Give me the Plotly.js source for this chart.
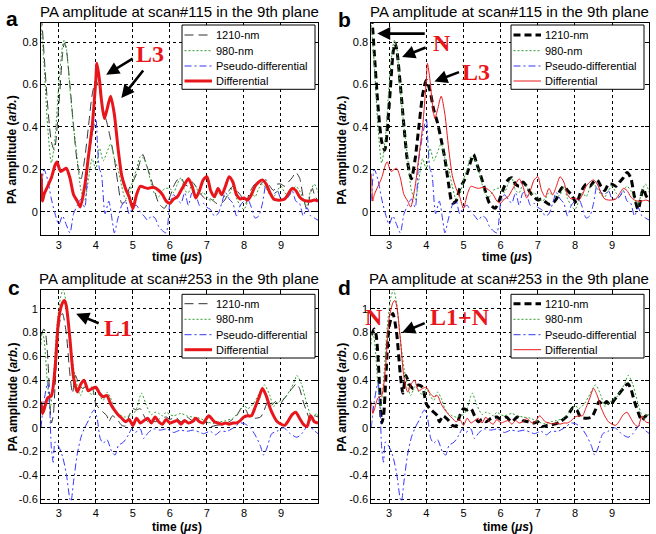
<!DOCTYPE html>
<html><head><meta charset="utf-8">
<script src="https://cdn.plot.ly/plotly-3.0.1.min.js"></script>
<style>html,body{margin:0;padding:0;background:#fff}#chart{width:656px;height:534px}</style>
</head><body><div id="chart"></div>
<script>
// ---------- scan #115 ----------
const t115_1210 = [2.52,2.55,2.6,2.7,2.8,2.88,3.0,3.1,3.15,3.2,3.3,3.4,3.5,3.6,3.7,3.8,3.9,4.0,4.1,4.2,4.3,4.4,4.5,4.6,4.7,4.8,4.9,5.0,5.1,5.2,5.27,5.35,5.5,5.6,5.7,5.85,6.0,6.1,6.2,6.3,6.4,6.5,6.6,6.7,6.8,6.9,7.0,7.1,7.2,7.3,7.4,7.5,7.6,7.7,7.8,7.9,8.0,8.05,8.15,8.3,8.4,8.5,8.6,8.7,8.8,8.9,9.0,9.1,9.2,9.3,9.4,9.5,9.6,9.7,9.8,9.85,9.9,10.0];
const v115_1210 = [0.92,0.88,0.75,0.5,0.33,0.29,0.5,0.74,0.795,0.77,0.6,0.4,0.23,0.155,0.25,0.4,0.55,0.62,0.57,0.48,0.42,0.34,0.25,0.13,0.04,0.05,0.11,0.14,0.18,0.24,0.27,0.23,0.15,0.09,0.04,0.016,0.07,0.12,0.15,0.16,0.13,0.12,0.14,0.12,0.09,0.07,0.055,0.06,0.047,0.035,0.04,0.06,0.1,0.12,0.1,0.08,0.05,0.04,0.09,0.13,0.12,0.14,0.15,0.12,0.1,0.13,0.13,0.12,0.14,0.16,0.185,0.16,0.07,0.01,0.09,0.11,0.08,0.05];

const t115_980 = [2.52,2.6,2.7,2.8,2.9,3.0,3.1,3.15,3.2,3.3,3.4,3.5,3.6,3.7,3.8,3.9,4.0,4.1,4.2,4.3,4.4,4.5,4.6,4.7,4.8,4.9,5.0,5.1,5.2,5.3,5.4,5.5,5.6,5.7,5.8,5.9,6.0,6.1,6.2,6.3,6.4,6.5,6.6,6.7,6.8,6.9,7.0,7.1,7.2,7.3,7.4,7.5,7.6,7.7,7.8,7.9,8.0,8.1,8.2,8.3,8.4,8.5,8.6,8.7,8.8,8.9,9.0,9.1,9.2,9.3,9.4,9.5,9.6,9.7,9.8,9.9,10.0];
const v115_980 = [0.88,0.7,0.4,0.23,0.35,0.6,0.78,0.81,0.78,0.58,0.4,0.25,0.1,0.055,0.15,0.25,0.2,0.3,0.24,0.28,0.32,0.25,0.2,0.12,0.06,0.08,0.15,0.2,0.26,0.25,0.2,0.13,0.08,0.07,0.1,0.11,0.11,0.09,0.13,0.16,0.1,0.09,0.13,0.12,0.08,0.09,0.07,0.05,0.06,0.09,0.08,0.07,0.08,0.12,0.06,0.03,0.01,0.05,0.09,0.07,0.11,0.13,0.11,0.08,0.07,0.1,0.12,0.09,0.07,0.1,0.12,0.1,0.06,0.03,0.1,0.13,0.09];

const t115_pseudo = [2.52,2.6,2.7,2.8,2.9,3.0,3.1,3.2,3.3,3.4,3.5,3.6,3.7,3.8,3.9,4.0,4.05,4.1,4.15,4.25,4.35,4.45,4.5,4.6,4.7,4.8,4.9,5.0,5.1,5.2,5.3,5.4,5.5,5.6,5.7,5.8,5.9,6.0,6.1,6.2,6.3,6.4,6.5,6.6,6.7,6.8,6.9,7.0,7.1,7.2,7.3,7.4,7.5,7.6,7.7,7.8,7.9,8.0,8.1,8.2,8.3,8.4,8.5,8.6,8.7,8.8,8.9,9.0,9.1,9.2,9.3,9.4,9.5,9.6,9.7,9.8,9.9,10.0];
const v115_pseudo = [0.05,0.2,0.15,0.06,-0.01,-0.06,-0.02,-0.06,-0.1,-0.01,0.03,0.06,0.02,0.25,0.36,0.44,0.3,0.2,0.18,-0.01,0.05,-0.05,-0.1,-0.03,0.03,0.05,-0.01,0.02,0.03,0.0,-0.02,-0.04,-0.02,-0.03,-0.07,-0.09,-0.1,0.04,0.08,0.06,0.04,0.09,0.03,0.09,0.08,0.03,0.04,0.02,0.01,-0.02,-0.01,0.04,0.09,0.06,0.04,-0.02,0.03,0.05,0.06,0.02,-0.03,-0.02,0.04,0.13,0.09,0.08,0.1,0.06,0.06,0.07,0.1,0.05,0.04,-0.02,0.02,-0.02,-0.03,-0.04];

const t115_diff = [2.52,2.56,2.6,2.7,2.8,2.9,2.95,3.05,3.2,3.3,3.4,3.5,3.58,3.7,3.8,3.9,4.0,4.03,4.1,4.15,4.23,4.3,4.4,4.5,4.6,4.7,4.8,4.9,5.0,5.1,5.2,5.3,5.4,5.55,5.7,5.8,5.9,6.0,6.1,6.2,6.3,6.4,6.5,6.6,6.7,6.8,6.9,7.0,7.1,7.2,7.3,7.4,7.5,7.6,7.7,7.8,7.9,8.0,8.1,8.2,8.3,8.4,8.5,8.6,8.7,8.8,8.9,9.0,9.1,9.2,9.3,9.4,9.5,9.6,9.7,9.8,9.9,10.0];
const v115_diff = [0.18,0.05,0.08,0.12,0.16,0.22,0.235,0.19,0.205,0.16,0.08,0.05,0.022,0.12,0.26,0.40,0.62,0.70,0.62,0.53,0.44,0.48,0.545,0.46,0.30,0.17,0.11,0.07,0.015,0.08,0.12,0.115,0.11,0.115,0.10,0.08,0.05,0.04,0.06,0.07,0.10,0.13,0.155,0.12,0.065,0.10,0.15,0.165,0.10,0.07,0.11,0.08,0.12,0.165,0.14,0.08,0.06,0.065,0.055,0.08,0.12,0.14,0.15,0.13,0.09,0.06,0.055,0.055,0.06,0.085,0.11,0.10,0.07,0.055,0.05,0.05,0.055,0.05];

// ---------- scan #253 ----------
const t253_1210 = [2.52,2.6,2.65,2.7,2.75,2.8,2.85,2.9,3.0,3.1,3.2,3.3,3.37,3.45,3.55,3.65,3.78,3.9,4.0,4.1,4.2,4.3,4.35,4.45,4.6,4.7,4.8,4.9,5.0,5.1,5.2,5.3,5.4,5.5,5.6,5.75,5.9,6.0,6.15,6.3,6.45,6.6,6.75,6.9,7.0,7.1,7.25,7.45,7.6,7.8,7.95,8.05,8.15,8.3,8.45,8.55,8.65,8.75,8.85,8.95,9.05,9.15,9.3,9.42,9.5,9.6,9.7,9.8,9.9,10.0];
const v253_1210 = [0.78,0.83,0.78,0.6,0.3,0.04,0.1,0.35,0.85,0.96,0.8,0.45,0.29,0.44,0.36,0.33,0.36,0.34,0.2,0.16,0.13,0.1,0.05,0.1,0.06,0.02,0.015,0.1,0.16,0.15,0.16,0.1,0.05,0.07,0.05,0.08,0.09,0.07,0.09,0.05,0.09,0.06,0.05,0.04,0.05,0.01,0.02,0.03,0.05,0.1,0.17,0.15,0.09,0.08,0.09,0.15,0.22,0.19,0.22,0.19,0.23,0.27,0.33,0.37,0.33,0.22,0.13,0.06,0.1,0.09];

const t253_980 = [2.52,2.55,2.6,2.7,2.77,2.85,2.95,3.05,3.12,3.2,3.3,3.4,3.5,3.58,3.7,3.8,3.9,4.0,4.1,4.2,4.3,4.4,4.5,4.6,4.7,4.8,4.9,5.0,5.1,5.2,5.24,5.35,5.5,5.6,5.7,5.8,5.9,6.0,6.1,6.3,6.45,6.6,6.8,7.0,7.2,7.35,7.5,7.7,7.85,8.0,8.1,8.25,8.4,8.55,8.7,8.8,8.95,9.1,9.25,9.35,9.43,9.55,9.7,9.85,9.95,10.0];
const v253_980 = [0.7,0.8,0.75,0.35,0.16,0.4,0.85,1.1,1.16,1.05,0.75,0.5,0.35,0.27,0.35,0.3,0.28,0.33,0.27,0.23,0.3,0.25,0.16,0.12,0.1,0.09,0.1,0.11,0.16,0.27,0.29,0.2,0.11,0.13,0.12,0.1,0.13,0.11,0.1,0.12,0.1,0.09,0.08,0.05,0.035,0.05,0.06,0.08,0.13,0.19,0.16,0.2,0.28,0.36,0.27,0.18,0.22,0.25,0.32,0.38,0.44,0.37,0.2,0.07,0.12,0.1];

const t253_pseudo = [2.52,2.6,2.7,2.75,2.8,2.85,2.9,3.0,3.1,3.2,3.3,3.33,3.4,3.5,3.6,3.7,3.8,3.9,3.96,4.03,4.12,4.2,4.3,4.43,4.52,4.61,4.75,4.88,4.97,5.06,5.2,5.29,5.42,5.56,5.74,5.92,6.1,6.28,6.46,6.64,6.82,6.91,7.09,7.23,7.36,7.54,7.72,7.9,8.04,8.17,8.3,8.44,8.53,8.62,8.75,8.89,9.07,9.25,9.43,9.56,9.74,9.88,10.0];
const v253_pseudo = [0.0,0.22,0.38,0.2,-0.17,-0.29,-0.12,-0.16,-0.24,-0.38,-0.6,-0.62,-0.45,-0.22,-0.08,0.0,0.06,0.13,0.15,0.09,-0.09,-0.13,-0.1,-0.2,-0.23,-0.15,-0.12,-0.06,-0.01,-0.04,-0.01,-0.09,-0.04,-0.01,-0.02,-0.01,-0.04,-0.02,-0.03,-0.02,-0.04,-0.05,-0.03,-0.06,-0.03,-0.03,0.0,0.04,0.03,0.0,-0.06,-0.15,-0.23,-0.17,-0.05,-0.03,0.0,-0.05,-0.08,-0.05,0.02,-0.02,-0.05];

const t253_diff = [2.52,2.56,2.6,2.7,2.8,2.9,3.0,3.1,3.15,3.2,3.3,3.4,3.5,3.6,3.68,3.8,3.9,4.0,4.1,4.2,4.3,4.4,4.5,4.6,4.7,4.8,4.9,5.0,5.1,5.2,5.3,5.4,5.5,5.6,5.7,5.8,5.9,6.0,6.1,6.2,6.3,6.4,6.5,6.6,6.7,6.8,6.9,7.05,7.2,7.3,7.4,7.5,7.6,7.7,7.8,7.9,8.0,8.1,8.2,8.3,8.4,8.5,8.6,8.7,8.8,8.9,9.0,9.1,9.2,9.3,9.4,9.5,9.6,9.7,9.8,9.9,10.0];
const v253_diff = [0.22,0.12,0.15,0.25,0.27,0.5,0.92,1.05,1.07,1.03,0.75,0.42,0.3,0.37,0.4,0.31,0.33,0.34,0.29,0.26,0.27,0.2,0.15,0.11,0.08,0.05,0.07,0.02,0.08,0.04,0.06,0.08,0.04,0.09,0.05,0.03,0.07,0.04,0.05,0.06,0.03,0.06,0.04,0.05,0.08,0.05,0.04,0.1,0.05,0.04,0.03,0.04,0.03,0.04,0.04,0.06,0.09,0.1,0.1,0.17,0.25,0.33,0.27,0.17,0.1,0.05,0.03,0.02,0.06,0.11,0.13,0.08,0.03,0.01,0.1,0.05,0.04];

// ---------- labels ----------
const seriesNames = ['1210-nm','980-nm','Pseudo-differential','Differential'];
const xTicks = [3,4,5,6,7,8,9];
const yTicksTop = [0,0.2,0.4,0.6,0.8];
const yTickTextTop = ['0','0.2','0.4','0.6','0.8'];
const yTicksBot = [-0.6,-0.4,-0.2,0,0.2,0.4,0.6,0.8,1];
const yTickTextBot = ['-0.6','-0.4','-0.2','0','0.2','0.4','0.6','0.8','1'];
const titleTop = 'PA amplitude at scan#115 in the 9th plane';
const titleBot = 'PA amplitude at scan#253 in the 9th plane';

const FONT = 'Liberation Sans, Arial, sans-serif';
const SERIF = 'Liberation Serif, Times New Roman, serif';
const RED = '#e8161b';
const W = 656, H = 534;
const px = v => v / W, py = v => 1 - v / H;

const scan115 = [[t115_1210,v115_1210],[t115_980,v115_980],[t115_pseudo,v115_pseudo],[t115_diff,v115_diff]];
const scan253 = [[t253_1210,v253_1210],[t253_980,v253_980],[t253_pseudo,v253_pseudo],[t253_diff,v253_diff]];

function lineStyles(emph1210) {
  return [
    emph1210 ? {color:'#000', width:3, dash:'7px,4px'} : {color:'#333', width:1, dash:'9px,5px'},
    {color:'#2f9e2f', width:1, dash:'2px,2px'},
    {color:'#3535ff', width:1, dash:'7px,3px,2px,3px'},
    emph1210 ? {color:RED, width:1} : {color:RED, width:3}
  ];
}

function panelTraces(scan, n, emph1210) {
  const xa = n === 1 ? 'x' : 'x' + n, ya = n === 1 ? 'y' : 'y' + n;
  const styles = lineStyles(emph1210);
  return scan.map((s, i) => ({
    type:'scatter', mode:'lines', x:s[0], y:s[1], name:seriesNames[i],
    xaxis:xa, yaxis:ya, showlegend:false, hoverinfo:'skip',
    line:Object.assign({shape:'spline', smoothing:0.7}, styles[i])
  }));
}

const data = [].concat(
  panelTraces(scan115, 1, false),
  panelTraces(scan115, 2, true),
  panelTraces(scan253, 3, false),
  panelTraces(scan253, 4, true)
);

function xAxis(dom, anchor) {
  return {domain:dom, anchor:anchor, range:[2.52,10], tickvals:xTicks,
    showgrid:true, gridcolor:'#000', griddash:'dot', gridwidth:1,
    showline:true, linecolor:'#000', linewidth:1, mirror:'ticks',
    ticks:'inside', ticklen:4, tickcolor:'#000', zeroline:false,
    tickfont:{family:FONT, size:11, color:'#000'}};
}
function yAxis(dom, anchor, rng, tv, tt) {
  return {domain:dom, anchor:anchor, range:rng, tickvals:tv, ticktext:tt,
    showgrid:true, gridcolor:'#000', griddash:'dot', gridwidth:1,
    showline:true, linecolor:'#000', linewidth:1, mirror:'ticks',
    ticks:'inside', ticklen:4, tickcolor:'#000', zeroline:false,
    tickfont:{family:FONT, size:11, color:'#000'}};
}

const xL = [0.0625, 0.4848], xR = [0.566, 0.9898];
const yT = [0.5599, 0.9569], yB = [0.0586, 0.4564];

const ann = [];
const shapes = [];
function txt(x, y, text, size, extra) {
  ann.push(Object.assign({xref:'paper', yref:'paper', x:x, y:y, text:text, showarrow:false,
    xanchor:'center', yanchor:'middle', font:{family:FONT, size:size, color:'#000'}}, extra || {}));
}
// titles
txt(0.273, 0.9794, titleTop, 15);
txt(0.776, 0.9794, titleTop, 15);
txt(0.273, 0.4785, titleBot, 15);
txt(0.776, 0.4785, titleBot, 15);
// panel letters
txt(0.019, 0.966, '<b>a</b>', 21);
txt(0.525, 0.964, '<b>b</b>', 21);
txt(0.0213, 0.4607, '<b>c</b>', 21);
txt(0.525, 0.4625, '<b>d</b>', 21);
// axis titles
const xTitle = '<b>time (<i>μs</i>)</b>';
const yTitle = '<b>PA amplitude (<i>arb.</i>)</b>';
txt(0.270, 0.5178, xTitle, 12);
txt(0.773, 0.5178, xTitle, 12);
txt(0.270, 0.0131, xTitle, 12);
txt(0.775, 0.0131, xTitle, 12);
txt(0.0183, 0.719, yTitle, 12, {textangle:-90});
txt(0.522, 0.719, yTitle, 12, {textangle:-90});
txt(0.0203, 0.2566, yTitle, 12, {textangle:-90});
txt(0.522, 0.2566, yTitle, 12, {textangle:-90});

// legends (box in pixels of the page)
const legendBoxes = [
  {x0:182, x1:315, y0:25,  y1:89.3,  rows:[35,50.7,66,81],         emph:false},
  {x0:511, x1:644, y0:25,  y1:89.3,  rows:[35,50.7,66,81],         emph:true},
  {x0:182, x1:315, y0:294.3, y1:358, rows:[303.7,319.3,334.7,349.7], emph:false},
  {x0:511, x1:644, y0:294.3, y1:358, rows:[303.7,319.3,334.7,349.7], emph:true}
];
legendBoxes.forEach(b => {
  shapes.push({type:'rect', xref:'paper', yref:'paper', layer:'above',
    x0:px(b.x0), x1:px(b.x1), y0:py(b.y1), y1:py(b.y0),
    fillcolor:'#fff', line:{color:'#000', width:1}});
  const st = lineStyles(b.emph);
  b.rows.forEach((ry, i) => {
    shapes.push({type:'line', xref:'paper', yref:'paper', layer:'above',
      x0:px(b.x0 + 2.5), x1:px(b.x0 + 30), y0:py(ry), y1:py(ry), line:st[i]});
    ann.push({xref:'paper', yref:'paper', x:px(b.x0 + 31.5), y:py(ry), text:seriesNames[i],
      showarrow:false, xanchor:'left', yanchor:'middle',
      font:{family:FONT, size:11, color:'#000'}});
  });
});

// red labels (data coordinates)
function redLabel(xa, ya, x, y, text) {
  ann.push({xref:xa, yref:ya, x:x, y:y, text:'<b>'+text+'</b>', showarrow:false,
    xanchor:'center', yanchor:'middle', font:{family:SERIF, size:24, color:RED}});
}
function arrow(xa, ya, x, y, ax, ay) {
  ann.push({xref:xa, yref:ya, x:x, y:y, ax:ax, ay:ay, text:'', showarrow:true,
    arrowhead:2, arrowsize:1, arrowwidth:2.6, arrowcolor:'#000'});
}
redLabel('x','y', 5.46, 0.745, 'L3');
arrow('x','y', 4.28, 0.646, 28, -17);
arrow('x','y', 4.69, 0.536, 23, -29);

redLabel('x2','y2', 4.41, 0.797, 'N');
redLabel('x2','y2', 5.35, 0.66, 'L3');
arrow('x2','y2', 2.68, 0.84, 49, 0);
arrow('x2','y2', 3.35, 0.73, 25, -10);
arrow('x2','y2', 4.22, 0.614, 26, -10);

redLabel('x3','y3', 4.59, 0.837, 'L1');
arrow('x3','y3', 3.47, 0.957, 24, 10);

redLabel('x4','y4', 2.58, 0.93, 'N');
redLabel('x4','y4', 4.92, 0.93, 'L1+N');
arrow('x4','y4', 3.35, 0.80, 24, -10);

const layout = {
  width:W, height:H, margin:{l:0, r:0, t:0, b:0},
  paper_bgcolor:'#fff', plot_bgcolor:'#fff',
  font:{family:FONT, color:'#000'},
  showlegend:false,
  xaxis:xAxis(xL,'y'), yaxis:yAxis(yT,'x',[-0.11,0.89],yTicksTop,yTickTextTop),
  xaxis2:xAxis(xR,'y2'), yaxis2:yAxis(yT,'x2',[-0.11,0.89],yTicksTop,yTickTextTop),
  xaxis3:xAxis(xL,'y3'), yaxis3:yAxis(yB,'x3',[-0.63,1.155],yTicksBot,yTickTextBot),
  xaxis4:xAxis(xR,'y4'), yaxis4:yAxis(yB,'x4',[-0.63,1.155],yTicksBot,yTickTextBot),
  shapes:shapes,
  annotations:ann
};
Plotly.newPlot('chart', data, layout, {staticPlot:true, displayModeBar:false});
</script></body></html>
